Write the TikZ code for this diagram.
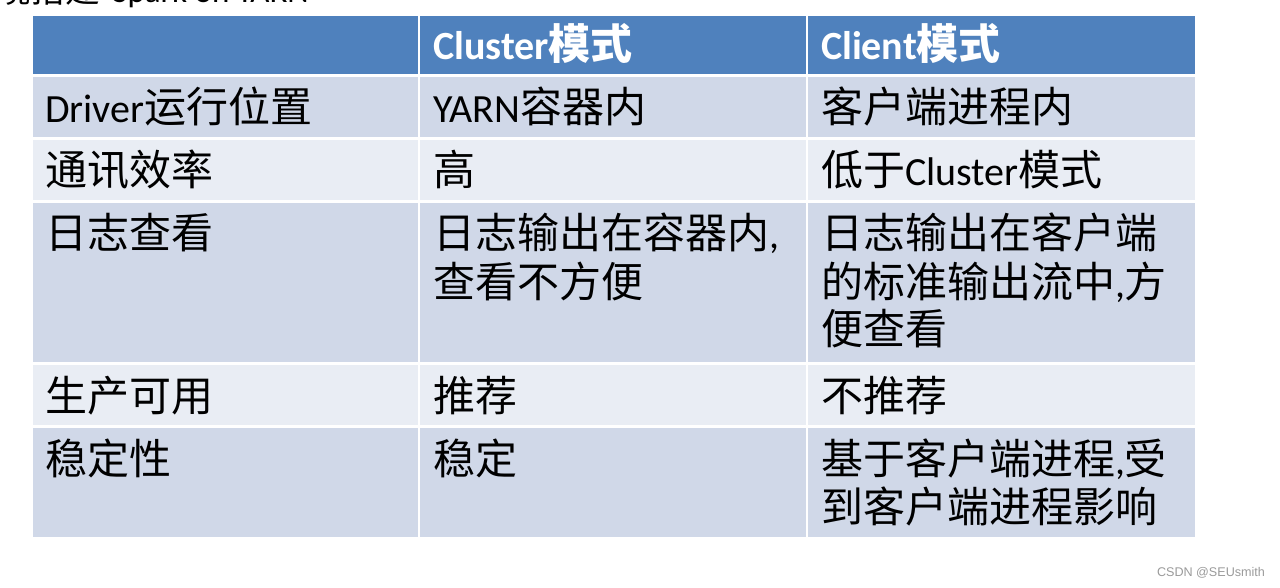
\documentclass[tikz,border=0pt]{standalone}
\usepackage{fontspec}
\setmainfont{Carlito}
\newfontfamily\cjk[Scale=1.05]{Noto Sans CJK SC}
\newfontfamily\wmfont{Liberation Sans}
\newcommand\zh[1]{{\cjk #1}}
\definecolor{headblue}{HTML}{4F81BD}
\definecolor{rowdark}{HTML}{D0D8E8}
\definecolor{rowlight}{HTML}{E9EDF4}
\definecolor{wmgray}{HTML}{9A9A9A}
\tikzset{
  celltext/.style={anchor=base west, inner sep=0pt, outer sep=0pt, text=black,
    font=\fontsize{40}{48}\selectfont},
  headtext/.style={celltext, text=white, font=\fontsize{40}{48}\selectfont\bfseries},
}
\newcommand\cell[1]{\parbox[t]{370pt}{\raggedright #1}}
\begin{document}
\begin{tikzpicture}[x=1pt,y=-1pt]
\useasboundingbox (0,0) rectangle (1280,588);
\begin{scope}
\clip (0,0) rectangle (1280,588);
\node[anchor=base east, inner sep=0pt, font=\fontsize{33}{40}\selectfont] (title) at (309,3)
  {\zh{环境搭建}\hspace{12pt}Spark on YARN};
\end{scope}
% header
\fill[headblue] (33,16) rectangle (418,74);
\fill[headblue] (420,16) rectangle (806,74);
\fill[headblue] (808,16) rectangle (1195,74);
% rows
\foreach \t/\b/\c in {77/137/rowdark,140/200/rowlight,203/362/rowdark,365/425/rowlight,428/537/rowdark}{
  \fill[\c] (33,\t) rectangle (418,\b);
  \fill[\c] (420,\t) rectangle (806,\b);
  \fill[\c] (808,\t) rectangle (1195,\b);
}
% header texts
\node[headtext] (h2) at (433,60) {Cluster\zh{模式}};
\node[headtext] (h3) at (821,60) {Client\zh{模式}};
% row 1
\node[celltext] (a1) at (45,123) {Driver\zh{运行位置}};
\node[celltext] (b1) at (433,123) {YARN\zh{容器内}};
\node[celltext] (c1) at (821,123) {\zh{客户端进程内}};
% row 2
\node[celltext] (a2) at (45,186) {\zh{通讯效率}};
\node[celltext] (b2) at (433,186) {\zh{高}};
\node[celltext] (c2) at (821,186) {\zh{低于}Cluster\zh{模式}};
% row 3
\node[celltext] (a3) at (45,249) {\zh{日志查看}};
\node[celltext] (b3) at (433,249) {\cell{\zh{日志输出在容器内},\\\zh{查看不方便}}};
\node[celltext] (c3) at (821,249) {\cell{\zh{日志输出在客户端}\\\zh{的标准输出流中},\zh{方}\\\zh{便查看}}};
% row 4
\node[celltext] (a4) at (45,411) {\zh{生产可用}};
\node[celltext] (b4) at (433,411) {\zh{推荐}};
\node[celltext] (c4) at (821,411) {\zh{不推荐}};
% row 5
\node[celltext] (a5) at (45,474) {\zh{稳定性}};
\node[celltext] (b5) at (433,474) {\zh{稳定}};
\node[celltext] (c5) at (821,474) {\cell{\zh{基于客户端进程},\zh{受}\\\zh{到客户端进程影响}}};
% watermark
\node[inner sep=0pt, text=wmgray, font=\wmfont\fontsize{12.6}{14}\selectfont] (wm) at (1211,573) {CSDN @SEUsmith};
\end{tikzpicture}
\end{document}
